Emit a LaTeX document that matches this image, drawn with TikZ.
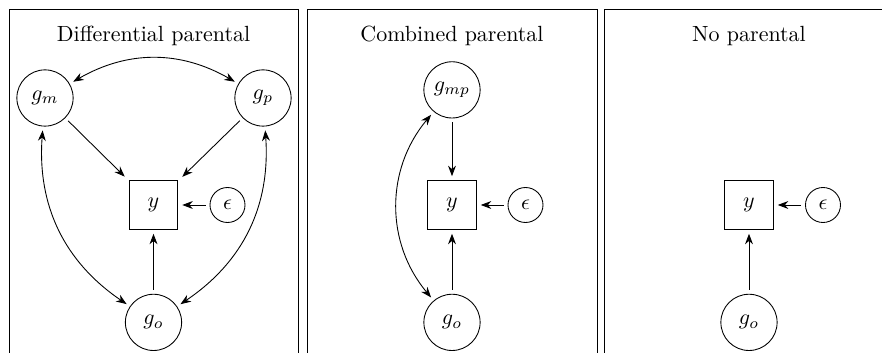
\documentclass[tikz,border=0pt]{standalone}
\usepackage{tikz}
\usetikzlibrary{arrows.meta}
\tikzset{
	latent/.style={circle, draw, inner sep=0pt, minimum size=0.9cm, outer sep=2pt},
	noise/.style={circle, draw, inner sep=0pt, minimum size=0.56cm, outer sep=2pt},
	obs/.style={rectangle, draw, inner sep=0pt, minimum size=0.78cm, outer sep=2pt},
	title/.style={anchor=base},
	arr/.style={-{Stealth}},
	twoarr/.style={{Stealth}-{Stealth}}
}

\begin{document}
\begin{tikzpicture}
			%%%%% START %%%%%
			\useasboundingbox (0, 0) rectangle (14.112, 5.648);
			
			% panel frames (open at the bottom)
			\draw (0.144, 0) |- (4.768, 5.504) -- (4.768, 0);
			\draw (4.912, 0) |- (9.552, 5.504) -- (9.552, 0);
			\draw (9.664, 0) |- (14.112, 5.504);
			
			% differential parental
			\node[title] (title1) at (2.456, 4.99) {Differential parental};
			\node[latent] (gm) at (0.72, 4.08) {$g_m$};
			\node[latent] (gp) at (4.208, 4.08) {$g_p$};
			\node[obs] (y1) at (2.456, 2.368) {$y$};
			\node[noise] (eps1) at (3.64, 2.368) {$\epsilon$};
			\node[latent] (go1) at (2.456, 0.49) {$g_o$};
			
			\draw[arr] (gm) -- (y1);
			\draw[arr] (gp) -- (y1);
			\draw[arr] (eps1) -- (y1);
			\draw[arr] (go1) -- (y1);
			\draw[twoarr] (gm) to[bend left=30] (gp);
			\draw[twoarr] (gm) to[bend right=30] (go1);
			\draw[twoarr] (gp) to[bend left=30] (go1);
			
			% combined parental
			\node[title] (title2) at (7.232, 4.99) {Combined parental};
			\node[latent] (gmp) at (7.232, 4.21) {$g_{mp}$};
			\node[obs] (y2) at (7.232, 2.368) {$y$};
			\node[noise] (eps2) at (8.408, 2.368) {$\epsilon$};
			\node[latent] (go2) at (7.232, 0.49) {$g_o$};
			
			\draw[arr] (gmp) -- (y2);
			\draw[arr] (eps2) -- (y2);
			\draw[arr] (go2) -- (y2);
			\draw[twoarr] (gmp) to[bend right=40] (go2);
			
			% no parental
			\node[title] (title3) at (11.984, 4.99) {No parental};
			\node[obs] (y3) at (11.984, 2.368) {$y$};
			\node[noise] (eps3) at (13.168, 2.368) {$\epsilon$};
			\node[latent] (go3) at (11.984, 0.49) {$g_o$};
			
			\draw[arr] (eps3) -- (y3);
			\draw[arr] (go3) -- (y3);
			%%%%% END %%%%%
\end{tikzpicture}
\end{document}
